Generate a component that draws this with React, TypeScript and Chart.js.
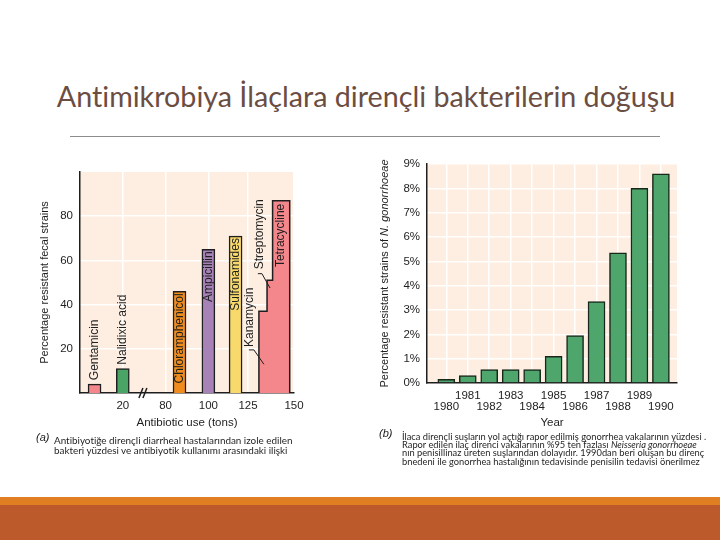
import React, { useEffect, useRef } from 'react';
import { Chart, registerables } from 'chart.js';

Chart.register(...registerables);

const FONT = '"Liberation Sans", Arial, Helvetica, sans-serif';

// ---- Chart (a): resistant fecal strains vs antibiotic use ----
const drugNames = ['Gentamicin', 'Nalidixic acid', 'Chloramphenicol', 'Ampicillin', 'Sulfonamides'];
const drugResistance = [4, 11, 46, 65, 71];
const drugAxisPos = [0.68, 2.0, 4.65, 6.0, 7.27]; // position along the broken "use" axis
const stepNames = ['Kanamycin', 'Streptomycin', 'Tetracycline'];
const stepResistance = [37, 51, 87];
const stepEdges = [8.36, 8.74, 9.0, 9.8];
const useTickLabels = ['20', '80', '100', '125', '150'];
const useTickPos = [2, 4, 6, 7.85, 10];
const fecalTicks = [20, 40, 60, 80];
const drugColors = ['#f4878c', '#49a466', '#f08c1d', '#a782b6', '#f8d96c'];
const stepColor = '#f4878c';

// ---- Chart (b): resistant N. gonorrhoeae by year ----
const years = [1980, 1981, 1982, 1983, 1984, 1985, 1986, 1987, 1988, 1989, 1990];
const gonoResistance = [0.15, 0.3, 0.55, 0.55, 0.55, 1.1, 1.95, 3.35, 5.35, 8.0, 8.6];
const pctTicks = [0, 1, 2, 3, 4, 5, 6, 7, 8, 9];

const CREAM = '#fdeee1';
const GRID = 'rgba(255,255,255,0.95)';
const INK = '#1e1e1e';

const bgPlugin = {
  id: 'creamBg',
  beforeDraw(chart: any) {
    const { ctx, chartArea: a } = chart;
    ctx.save();
    ctx.fillStyle = CREAM;
    ctx.fillRect(a.left, a.top, a.right - a.left, a.bottom - a.top);
    ctx.restore();
  },
};

function rotText(ctx: any, text: string, px: number, py: number, align: string) {
  ctx.save();
  ctx.translate(px, py);
  ctx.rotate(-Math.PI / 2);
  ctx.textAlign = align;
  ctx.textBaseline = 'middle';
  ctx.fillText(text, 0, 0);
  ctx.restore();
}

const labelsA = {
  id: 'labelsA',
  afterDatasetsDraw(chart: any) {
    const { ctx } = chart;
    const x = chart.scales.x;
    const y = chart.scales.y;
    ctx.save();
    ctx.fillStyle = INK;
    ctx.strokeStyle = INK;
    ctx.font = `12px ${FONT}`;
    drugNames.forEach((name, i) => {
      const px = x.getPixelForValue(drugAxisPos[i]);
      const top = y.getPixelForValue(drugResistance[i]);
      if (drugResistance[i] < 20) rotText(ctx, name, px, top - 4, 'left');
      else rotText(ctx, name, px, top + 2, 'right');
    });
    // Tetracycline inside its column
    const tx = x.getPixelForValue((stepEdges[2] + stepEdges[3]) / 2);
    rotText(ctx, stepNames[2], tx, y.getPixelForValue(stepResistance[2]) + 3, 'right');
    // Streptomycin with leader
    const sx0 = x.getPixelForValue(stepEdges[0]);
    const sLx = sx0 + 1;
    rotText(ctx, stepNames[1], sLx, y.getPixelForValue(56), 'left');
    ctx.lineWidth = 1;
    ctx.beginPath();
    ctx.moveTo(sLx - 2, y.getPixelForValue(54));
    ctx.lineTo(sLx + 2, y.getPixelForValue(54));
    ctx.lineTo(x.getPixelForValue(stepEdges[1]) + 3, y.getPixelForValue(47.5));
    ctx.stroke();
    // Kanamycin with leader
    const kLx = sx0 - 9;
    rotText(ctx, stepNames[0], kLx, y.getPixelForValue(20.8), 'left');
    ctx.beginPath();
    ctx.moveTo(kLx - 1, y.getPixelForValue(19.5));
    ctx.lineTo(kLx + 4, y.getPixelForValue(19.5));
    ctx.lineTo(sx0 + 5, y.getPixelForValue(13));
    ctx.stroke();
    ctx.restore();
  },
  afterDraw(chart: any) {
    // axis break mark "//"
    const { ctx } = chart;
    const x = chart.scales.x;
    const by = chart.chartArea.bottom;
    const bx = x.getPixelForValue(2.94);
    ctx.save();
    ctx.strokeStyle = INK;
    ctx.lineWidth = 1.5;
    ctx.beginPath();
    ctx.moveTo(bx - 4, by + 5);
    ctx.lineTo(bx, by - 5);
    ctx.moveTo(bx, by + 5);
    ctx.lineTo(bx + 4, by - 5);
    ctx.stroke();
    ctx.restore();
  },
};

const yTitleB = {
  id: 'yTitleB',
  afterDraw(chart: any) {
    const { ctx, chartArea: a } = chart;
    const parts: [string, string][] = [
      ['Percentage resistant strains of ', `11px ${FONT}`],
      ['N. gonorrhoeae', `italic 11px ${FONT}`],
    ];
    let total = 0;
    const widths = parts.map(([t, f]) => {
      ctx.font = f;
      const w = ctx.measureText(t).width;
      total += w;
      return w;
    });
    ctx.save();
    ctx.translate(25, (a.top + a.bottom) / 2);
    ctx.rotate(-Math.PI / 2);
    ctx.fillStyle = INK;
    ctx.textBaseline = 'middle';
    ctx.textAlign = 'left';
    let cx = -total / 2;
    parts.forEach(([t, f], i) => {
      ctx.font = f;
      ctx.fillText(t, cx, 0);
      cx += widths[i];
    });
    ctx.restore();
  },
};

function ChartA() {
  const ref = useRef<HTMLCanvasElement>(null);
  useEffect(() => {
    const stepPts: { x: number; y: number }[] = [{ x: stepEdges[0], y: 0 }];
    stepResistance.forEach((v, i) => {
      stepPts.push({ x: stepEdges[i], y: v });
      stepPts.push({ x: stepEdges[i + 1], y: v });
    });
    stepPts.push({ x: stepEdges[stepEdges.length - 1], y: 0 });
    const chart = new Chart(ref.current as HTMLCanvasElement, {
      type: 'bar',
      data: {
        datasets: [
          {
            type: 'bar',
            data: drugAxisPos.map((p, i) => ({ x: p, y: drugResistance[i] })),
            backgroundColor: drugColors,
            borderColor: INK,
            borderWidth: 1.5,
            barThickness: 13,
          } as any,
          {
            type: 'line',
            data: stepPts,
            backgroundColor: stepColor,
            borderColor: INK,
            borderWidth: 1.5,
            pointRadius: 0,
            fill: 'origin',
            tension: 0,
          } as any,
        ],
      },
      options: {
        animation: false,
        responsive: false,
        layout: { padding: { left: 0, right: 26, top: 22, bottom: 0 } },
        plugins: { legend: { display: false }, tooltip: { enabled: false } },
        scales: {
          x: {
            type: 'linear',
            min: 0,
            max: 10,
            offset: false,
            afterBuildTicks: (s: any) => {
              s.ticks = useTickPos.map((v) => ({ value: v }));
            },
            afterFit: (s: any) => {
              s.height = 47;
            },
            ticks: {
              callback: (v: any) => useTickLabels[useTickPos.indexOf(Number(v))],
              font: { family: FONT, size: 11.5 },
              color: INK,
              padding: 6,
              maxRotation: 0,
              autoSkip: false,
            },
            grid: { color: GRID, lineWidth: 1.5, drawTicks: false, offset: false },
            border: { color: INK, width: 1.5 },
            title: {
              display: true,
              text: 'Antibiotic use (tons)',
              font: { family: FONT, size: 11.5 },
              color: INK,
              padding: { top: 0, bottom: 10 },
            },
          },
          y: {
            type: 'linear',
            min: 0,
            max: 100,
            afterBuildTicks: (s: any) => {
              s.ticks = fecalTicks.map((v) => ({ value: v }));
            },
            afterFit: (s: any) => {
              s.width = 60;
            },
            ticks: { font: { family: FONT, size: 11.5 }, color: INK, padding: 7 },
            grid: { color: GRID, lineWidth: 1.5, drawTicks: false },
            border: { color: INK, width: 1.5 },
            title: {
              display: true,
              text: 'Percentage resistant fecal strains',
              font: { family: FONT, size: 11 },
              color: INK,
              padding: { top: 18, bottom: 0 },
            },
          },
        },
      } as any,
      plugins: [bgPlugin, labelsA],
    });
    return () => chart.destroy();
  }, []);
  return <canvas ref={ref} width={300} height={290} style={{ position: 'absolute', left: 20, top: 150 }} />;
}

function ChartB() {
  const ref = useRef<HTMLCanvasElement>(null);
  useEffect(() => {
    const chart = new Chart(ref.current as HTMLCanvasElement, {
      type: 'bar',
      data: {
        datasets: [
          {
            data: years.map((yr, i) => ({ x: yr, y: gonoResistance[i] })),
            backgroundColor: '#4ea66c',
            borderColor: '#18261b',
            borderWidth: 1.5,
            barThickness: 17,
          } as any,
        ],
      },
      options: {
        animation: false,
        responsive: false,
        layout: { padding: { left: 0, right: 23, top: 14, bottom: 0 } },
        plugins: { legend: { display: false }, tooltip: { enabled: false } },
        scales: {
          x: {
            type: 'linear',
            min: 1979.1,
            max: 1990.75,
            offset: false,
            afterBuildTicks: (s: any) => {
              s.ticks = years.map((v) => ({ value: v }));
            },
            afterFit: (s: any) => {
              s.height = 57;
            },
            ticks: {
              callback: (v: any) => (Number(v) % 2 === 1 ? [String(v), ''] : ['', String(v)]),
              font: { family: FONT, size: 11.5, lineHeight: '11px' },
              color: INK,
              padding: 7.5,
              maxRotation: 0,
              autoSkip: false,
            },
            grid: { color: GRID, lineWidth: 1.5, drawTicks: false, offset: false },
            border: { color: INK, width: 1.5 },
            title: {
              display: true,
              text: 'Year',
              font: { family: FONT, size: 11.5 },
              color: INK,
              padding: { top: 0, bottom: 10 },
            },
          },
          y: {
            type: 'linear',
            min: 0,
            max: 9,
            afterBuildTicks: (s: any) => {
              s.ticks = pctTicks.map((v) => ({ value: v }));
            },
            afterFit: (s: any) => {
              s.width = 67;
            },
            ticks: {
              callback: (v: any) => `${v}%`,
              font: { family: FONT, size: 11.5 },
              color: INK,
              padding: 7,
            },
            grid: { color: GRID, lineWidth: 1.5, drawTicks: false },
            border: { color: INK, width: 1.5 },
          },
        },
      } as any,
      plugins: [bgPlugin, yTitleB],
    });
    return () => chart.destroy();
  }, []);
  return <canvas ref={ref} width={340} height={290} style={{ position: 'absolute', left: 360, top: 150 }} />;
}

const capFont = 'Lato, "Open Sans", sans-serif';

export default function App() {
  return (
    <div
      style={{
        position: 'absolute',
        left: 0,
        top: 0,
        width: 720,
        height: 540,
        overflow: 'hidden',
        background: '#ffffff',
      }}
    >
      <div
        style={{
          position: 'absolute',
          left: 0,
          top: 79,
          width: 732,
          textAlign: 'center',
          fontFamily: capFont,
          fontSize: 28.7,
          lineHeight: '34px',
          color: '#6b4d42',
          whiteSpace: 'nowrap',
          fontVariantLigatures: 'none',
        }}
      >
        Antimikrobiya İlaçlara dirençli bakterilerin doğuşu
      </div>
      <div style={{ position: 'absolute', left: 70, top: 136, width: 590, height: 1, background: '#8c8c8c' }} />
      <ChartA />
      <ChartB />
      <div
        style={{
          position: 'absolute',
          left: 36,
          top: 431,
          fontFamily: FONT,
          fontStyle: 'italic',
          fontSize: 11,
          color: INK,
        }}
      >
        (a)
      </div>
      <div
        style={{
          position: 'absolute',
          left: 54,
          top: 436,
          fontFamily: capFont,
          fontSize: 9.9,
          lineHeight: '9.5px',
          color: INK,
          whiteSpace: 'nowrap',
          fontVariantLigatures: 'none',
        }}
      >
        Antibiyotiğe dirençli diarrheal hastalarından izole edilen
        <br />
        bakteri yüzdesi ve antibiyotik kullanımı arasındaki ilişki
      </div>
      <div
        style={{
          position: 'absolute',
          left: 379,
          top: 427,
          fontFamily: FONT,
          fontStyle: 'italic',
          fontSize: 11,
          color: INK,
        }}
      >
        (b)
      </div>
      <div
        style={{
          position: 'absolute',
          left: 402,
          top: 433,
          fontFamily: capFont,
          fontSize: 9.3,
          lineHeight: '8.2px',
          color: INK,
          whiteSpace: 'nowrap',
          fontVariantLigatures: 'none',
        }}
      >
        İlaca dirençli suşların yol açtığı rapor edilmiş gonorrhea vakalarının yüzdesi .
        <br />
        Rapor edilen ilaç direnci vakalarının %95 ten fazlası <i>Neisseria gonorrhoeae</i>
        <br />
        nın penisillinaz üreten suşlarından dolayıdır. 1990dan beri oluşan bu direnç
        <br />
        bnedeni ile gonorrhea hastalığının tedavisinde penisilin tedavisi önerilmez
      </div>
      <div style={{ position: 'absolute', left: 0, top: 497, width: 720, height: 8, background: '#e07e22' }} />
      <div style={{ position: 'absolute', left: 0, top: 505, width: 720, height: 35, background: '#bd5a2c' }} />
    </div>
  );
}
